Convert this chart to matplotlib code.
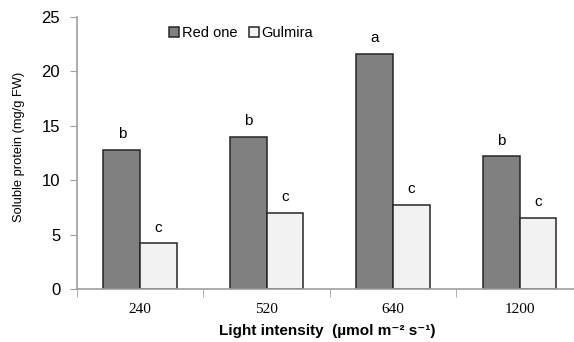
import numpy as np
import matplotlib
matplotlib.use("Agg")
import matplotlib.pyplot as plt

# Soluble protein under four light intensities, two lettuce cultivars.
light = ["240", "520", "640", "1200"]
red_one = [12.8, 14.0, 21.6, 12.2]
gulmira = [4.2, 7.0, 7.75, 6.55]
red_letters = ["b", "b", "a", "b"]
gul_letters = ["c", "c", "c", "c"]

plt.rcParams['font.family'] = ['Liberation Sans', 'DejaVu Sans']

fig = plt.figure(figsize=(5.74, 3.42), dpi=100)
# right edge of the axes runs past the figure, as in the original crop
ax = fig.add_axes([0.134, 0.155, 0.8815, 0.795])

x = np.arange(len(light))
w = 0.29
ax.bar(x - w/2, red_one, w, color='#808080', edgecolor='#262626', linewidth=1.1, label='Red one')
ax.bar(x + w/2, gulmira, w, color='#f2f2f2', edgecolor='#262626', linewidth=1.1, label='Gulmira')

for i in range(len(light)):
    ax.text(x[i] - w/2, red_one[i] + 0.8, red_letters[i], ha='center', va='bottom', fontsize=11)
    ax.text(x[i] + w/2, gulmira[i] + 0.8, gul_letters[i], ha='center', va='bottom', fontsize=11)

ax.set_xlim(-0.5, len(light) - 0.5)
ax.set_ylim(0, 25)
ax.set_yticks([0, 5, 10, 15, 20, 25])
ax.set_xticks(x)
ax.set_xticklabels(light, family='Liberation Serif', fontsize=11)
ax.set_xticks(np.arange(len(light) + 1) - 0.5, minor=True)
ax.tick_params(axis='x', which='major', length=0, pad=10)
ax.tick_params(axis='x', which='minor', length=6, color='#a0a0a0', direction='out')
ax.tick_params(axis='y', length=5, color='#a0a0a0', labelsize=12, pad=7)

for s in ['top', 'right']:
    ax.spines[s].set_visible(False)
for s in ['left', 'bottom']:
    ax.spines[s].set_color('#a0a0a0')
    ax.spines[s].set_linewidth(1.2)

ax.set_ylabel('Soluble protein (mg/g FW)', fontsize=9.3, va='center')
ax.yaxis.set_label_coords(-0.1146, 0.522)
ax.set_xlabel('Light intensity  (\u00b5mol m\u207b\u00b2 s\u207b\u00b9)', fontsize=11, fontweight='bold', va='center')
ax.xaxis.set_label_coords(0.4945, -0.154)

ax.legend(loc='upper left', bbox_to_anchor=(0.165, 1.0), ncol=2, frameon=False, fontsize=10.5,
          handlelength=0.7, handleheight=0.7, handletextpad=0.15, columnspacing=0.8, borderaxespad=0.2)

fig.savefig('out.png', dpi=100)
